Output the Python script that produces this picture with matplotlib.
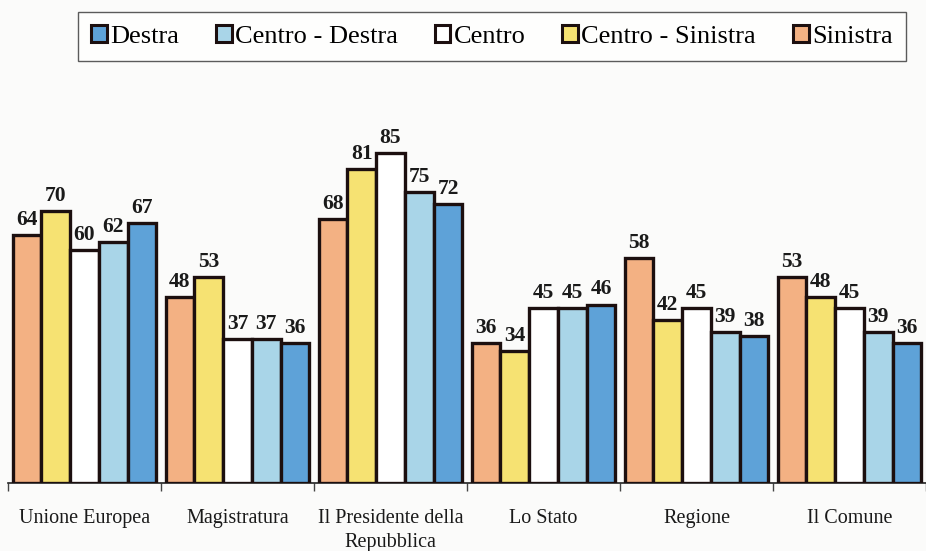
import numpy as np
import matplotlib.pyplot as plt
from matplotlib.patches import Patch

categories = ["Unione Europea", "Magistratura", "Il Presidente della\nRepubblica",
              "Lo Stato", "Regione", "Il Comune"]
series = ["Sinistra", "Centro - Sinistra", "Centro", "Centro - Destra", "Destra"]
sinistra = [64, 48, 68, 36, 58, 53]
centro_sinistra = [70, 53, 81, 34, 42, 48]
centro = [60, 37, 85, 45, 45, 45]
centro_destra = [62, 37, 75, 45, 39, 39]
destra = [67, 36, 72, 46, 38, 36]
values = [sinistra, centro_sinistra, centro, centro_destra, destra]
colors = ["#F3B183", "#F6E272", "#FFFFFF", "#A9D5E8", "#5EA2D8"]

plt.rcParams['font.family'] = ['Liberation Serif', 'DejaVu Serif']

fig = plt.figure(figsize=(9.26, 5.51), dpi=100, facecolor="#FBFBFA")
ax = fig.add_axes([8/926, 68/551, 918/926, 388/551])
ax.set_facecolor("none")

x = np.arange(len(categories))
w = 0.188
edge = "#1C0F0F"
for j, vals in enumerate(values):
    pos = x + (j - 2) * w
    ax.bar(pos, vals, width=w, color=colors[j], edgecolor=edge, linewidth=2.4, zorder=3)
    for p, v in zip(pos, vals):
        ax.text(p, v + 1.3, str(v), ha="center", va="bottom", fontsize=15.5,
                fontweight="bold", color="#1a1a1a", family="Liberation Serif")

ax.set_xlim(-0.5, 5.46)
ax.set_ylim(0, 100)
for s in ["top", "right", "left"]:
    ax.spines[s].set_visible(False)
ax.spines["bottom"].set_color("#222222")
ax.spines["bottom"].set_linewidth(1.2)
ax.set_yticks([])
ax.set_xticks(x)
ax.set_xticklabels(categories, fontsize=14.5, color="#1a1a1a", linespacing=1.3,
                   family="Liberation Serif")
ax.tick_params(axis="x", which="major", length=0, pad=19)
ax.set_xticks(np.arange(-0.5, 6, 1), minor=True)
ax.tick_params(axis="x", which="minor", length=6, width=1, color="#444444", direction="out")

order = [4, 3, 2, 1, 0]
handles = [Patch(facecolor=colors[k], edgecolor=edge, linewidth=2.2) for k in order]
labels = [series[k] for k in order]
leg = fig.legend(handles, labels, loc="upper center", bbox_to_anchor=(0.531, 1.002), ncol=5,
                 prop={"family": "Liberation Serif", "size": 19}, frameon=True,
                 fancybox=False, edgecolor="#333333",
                 handlelength=0.6, handleheight=0.6, handletextpad=0.12, columnspacing=1.4,
                 borderpad=0.5)
leg.get_frame().set_linewidth(1.0)

fig.savefig("out.png", dpi=100, facecolor=fig.get_facecolor())
